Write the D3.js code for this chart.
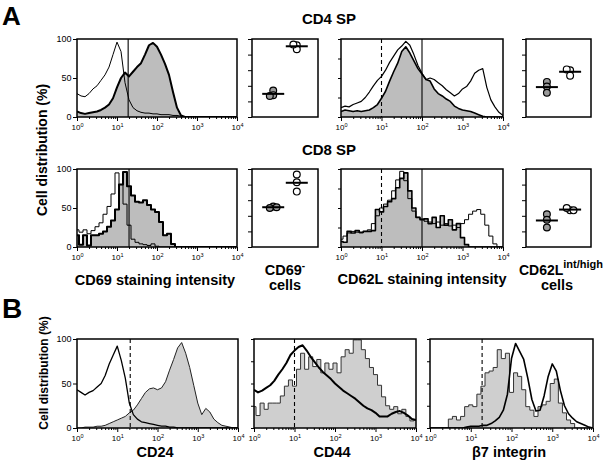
<!DOCTYPE html>
<html><head><meta charset="utf-8">
<script src="https://cdn.jsdelivr.net/npm/d3@7"></script>
<style>
body{margin:0;background:#fff;}
svg{display:block;}
</style></head><body>
<svg id="fig" width="608" height="463"></svg>
<script>
// ---------- DATA ----------
// histogram channels: log10 of staining intensity (bin centres)
const channelExp = [0.0,0.1,0.2,0.3,0.4,0.5,0.6,0.7,0.8,0.9,1.0,1.1,1.2,1.3,1.4,1.5,1.6,1.7,1.8,1.9,2.0,2.1,2.2,2.3,2.4,2.5,2.6,2.7,2.8,2.9,3.0,3.1,3.2,3.3,3.4,3.5,3.6,3.7,3.8,3.9,4.0];
const decadeTicks = [1, 10, 100, 1000, 10000];
const percentTicks = [0, 50, 100];
const plainTicks = [0, 25, 50, 75, 100];
const scatterTicks = [0, 20, 40, 60, 80, 100];
const groups = ["gray", "white"];

// Panel A, CD4 SP, CD69
const cd4Cd69Open = [30,27,26,30,36,40,47,54,64,80, 96,84,44,22,12,8,6,5,5,4, 4,3,3,3,2,2,1,0,0,0, 0,0,0,0,0,0,0,0,0,0, 0];
const cd4Cd69Gray = [7,5,4,5,6,7,9,12,16,24, 38,50,57,52,58,64,69,80,92,95, 90,80,68,54,32,12,2,0,0,0, 0,0,0,0,0,0,0,0,0,0, 0];
// Panel A, CD4 SP, CD62L
const cd4Cd62lOpen = [12,14,13,16,18,20,25,32,40,47, 52,60,70,78,86,91,97,92,80,66, 56,48,50,48,44,40,35,31,27,30, 36,39,46,56,60,62,38,22,13,6, 2];
const cd4Cd62lGray = [7,9,8,7,8,7,8,9,12,16, 24,33,46,58,69,84,90,82,72,62, 55,48,46,36,30,27,23,20,14,11, 9,8,7,5,3,1,0,0,0,0, 0];
// Panel A, CD8 SP, CD69
const cd8Cd69Open = [22,19,22,17,21,26,31,42,52,68, 95,80,55,28,10,6,4,3,2,4, 1,0,0,0,0,0,0,0,0,0, 0,0,0,0,0,0,0,0,0,0, 0];
const cd8Cd69Gray = [15,3,15,2,15,15,17,20,26,34, 48,80,96,78,66,58,57,60,54,48, 45,32,15,17,4,0,0,0,0,0, 0,0,0,0,0,0,0,0,0,0, 0];
// Panel A, CD8 SP, CD62L
const cd8Cd62lOpen = [10,14,18,20,19,18,20,22,30,40, 50,55,60,72,86,97,85,62,46,38, 36,33,32,30,32,28,30,27,28,25, 30,35,42,46,48,42,28,14,4,0, 0];
const cd8Cd62lGray = [7,6,20,18,21,19,20,20,21,48, 45,52,58,62,76,88,95,72,50,38, 35,36,30,38,25,40,28,35,22,30, 12,3,0,0,0,0,0,0,0,0, 0];
// Panel B
const cd24Open = [43,40,37,40,42,46,50,59,72,82, 92,76,56,28,15,10,7,6,5,4, 3,2,2,1,1,0,0,0,0,0, 0,0,0,0,0,0,0,0,0,0, 0];
const cd24Gray = [0,0,1,1,1,2,2,3,5,7, 9,11,13,17,20,26,33,40,44,45, 43,45,52,65,77,90,96,84,68,48, 28,15,22,18,10,6,3,2,1,0, 0];
const cd44Open = [43,40,42,45,48,53,60,66,73,82, 87,91,93,87,80,74,68,63,59,55, 50,46,42,39,36,33,29,25,22,20, 17,13,13,13,16,18,19,17,14,10, 9];
const cd44Gray = [24,14,28,21,28,28,28,36,47,54, 47,66,84,66,80,69,77,62,73,66, 73,62,80,88,84,99,99,88,78,68, 60,48,35,25,21,24,16,21,13,8, 9];
const b7Open = [0,0,0,0,0,0,0,0,0,1, 2,2,2,3,3,5,8,12,20,38, 78,95,86,77,56,32,19,20,36,58, 72,64,42,25,16,11,7,5,3,1, 0];
const b7Gray = [0,0,0,0,0,10,13,9,13,24, 26,24,38,47,62,64,68,88,78,84, 40,62,58,43,24,20,13,24,26,30, 50,55,28,17,9,5,0,0,0,0, 0];

// gates (staining intensity)
const gateCd4Cd69 = [19];
const gateCd8Cd69 = [20];
const gatesCd62l = [10, 100];
const gateCd24 = [21];
const gateCd44 = [10];
const gateB7 = [19];

// scatter values (% of cells), per group
const cd4Cd69Neg = {gray: [34, 28, 27], white: [92, 87, 93]};
const cd8Cd69Neg = {gray: [52, 50, 51], white: [93, 83, 71]};
const cd4Cd62lHigh = {gray: [45, 39, 31], white: [60, 61, 53]};
const cd8Cd62lHigh = {gray: [42, 35, 25], white: [47, 50, 47]};

// ---------- DRAWING ----------
const FONT = '"Liberation Sans", Arial, Helvetica, sans-serif';
const svg = d3.select("#fig").attr("font-family", FONT);
let clipN = 0;

function minorTicksFor() {
  const out = [];
  decadeTicks.slice(0, -1).forEach(d => { for (let k = 2; k <= 9; k++) out.push(d * k); });
  return out;
}

function histPanel(p) {
  const x = d3.scaleLog().domain([1, 1e4]).range([p.x0, p.x1]);
  const y = d3.scaleLinear().domain([0, 100]).range([p.y1, p.y0]);
  const g = svg.append("g");
  const id = "clip" + (clipN++);
  g.append("clipPath").attr("id", id).append("rect")
    .attr("x", p.x0).attr("y", p.y0 - 1).attr("width", p.x1 - p.x0).attr("height", p.y1 - p.y0 + 1);
  const pts = s => channelExp.map((e, i) => ({v: Math.pow(10, e), c: s[i]}));
  const plot = g.append("g").attr("clip-path", `url(#${id})`);
  const area = d3.area().x(d => x(d.v)).y0(y(0)).y1(d => y(d.c)).curve(p.grayCurve);
  const lineG = d3.line().x(d => x(d.v)).y(d => y(d.c)).curve(p.grayCurve);
  const lineO = d3.line().x(d => x(d.v)).y(d => y(d.c)).curve(p.openCurve);
  plot.append("path").datum(pts(p.gray)).attr("d", area).attr("fill", p.fill);
  plot.append("path").datum(pts(p.gray)).attr("d", lineG).attr("fill", "none")
    .attr("stroke", p.grayStroke).attr("stroke-width", p.grayW).attr("stroke-linejoin", "round");
  plot.append("path").datum(pts(p.open)).attr("d", lineO).attr("fill", "none")
    .attr("stroke", "#000").attr("stroke-width", p.openW).attr("stroke-linejoin", "round");
  p.gates.forEach(v => {
    g.append("line").attr("x1", x(v)).attr("x2", x(v)).attr("y1", p.y0).attr("y2", p.y1)
      .attr("stroke", "#000").attr("stroke-width", 1.1)
      .attr("stroke-dasharray", p.dashed(v) ? "4,3" : null);
  });
  g.append("rect").attr("x", p.x0).attr("y", p.y0).attr("width", p.x1 - p.x0).attr("height", p.y1 - p.y0)
    .attr("fill", "none").attr("stroke", "#000").attr("stroke-width", 1.5);
  // x axis
  const ax = g.append("g").attr("transform", `translate(0,${p.y1})`)
    .call(d3.axisBottom(x).tickValues(decadeTicks).tickSize(4).tickPadding(3).tickFormat(() => "10"));
  ax.select(".domain").remove();
  ax.selectAll(".tick line").attr("stroke-width", 1);
  ax.selectAll(".tick text").attr("font-size", 8).attr("font-family", FONT)
    .append("tspan").attr("dy", "-0.5em").attr("font-size", 5.5)
    .text(d => Math.round(Math.log10(d)));
  const axm = g.append("g").attr("transform", `translate(0,${p.y1})`)
    .call(d3.axisBottom(x).tickValues(minorTicksFor()).tickSize(2).tickFormat(""));
  axm.select(".domain").remove();
  // y axis
  const ay = g.append("g").attr("transform", `translate(${p.x0},0)`)
    .call(d3.axisLeft(y).tickValues(p.yLabels ? percentTicks : plainTicks)
      .tickSize(p.yLabels ? 4 : 3).tickPadding(1.5).tickFormat(p.yLabels ? d3.format("d") : ""));
  ay.select(".domain").remove();
  ay.selectAll(".tick text").attr("font-size", 9).attr("font-family", FONT);
}

function scatterPanel(p) {
  const y = d3.scaleLinear().domain([0, 100]).range([p.y1, p.y0]);
  const x = d3.scalePoint().domain(groups).range([p.x0, p.x1]).padding(0.9);
  const g = svg.append("g");
  g.append("rect").attr("x", p.x0).attr("y", p.y0).attr("width", p.x1 - p.x0).attr("height", p.y1 - p.y0)
    .attr("fill", "none").attr("stroke", "#000").attr("stroke-width", 1.5);
  const ay = g.append("g").attr("transform", `translate(${p.x0},0)`)
    .call(d3.axisLeft(y).tickValues(scatterTicks).tickSize(4).tickFormat(""));
  ay.select(".domain").remove();
  const r = 3.4;
  groups.forEach(gr => {
    const vals = p.data[gr];
    const placed = [];
    vals.forEach(v => {
      const cy = y(v);
      const offs = [0, -r, r, -2 * r, 2 * r];
      let cx = x(gr);
      for (const o of offs) {
        const tx = x(gr) + o;
        if (placed.every(q => Math.hypot(q[0] - tx, q[1] - cy) >= r * 0.95)) { cx = tx; break; }
      }
      placed.push([cx, cy]);
    });
    placed.forEach(([cx, cy]) => {
      g.append("circle").attr("cx", cx).attr("cy", cy).attr("r", r)
        .attr("fill", gr === "gray" ? "#9a9a9a" : "#fff").attr("stroke", "#000").attr("stroke-width", 1.2);
    });
    const m = d3.mean(vals);
    g.append("line").attr("x1", x(gr) - 11).attr("x2", x(gr) + 11).attr("y1", y(m)).attr("y2", y(m))
      .attr("stroke", "#000").attr("stroke-width", 2);
  });
}

const A1 = {x0: 77, x1: 237};
const A2 = {x0: 252, x1: 318};
const A3 = {x0: 341, x1: 503};
const A4 = {x0: 526, x1: 591};
const R1 = {y0: 39, y1: 117};
const R2 = {y0: 169, y1: 247};
const RB = {y0: 339, y1: 428};
const step = d3.curveStep;
const lin = d3.curveLinear;

histPanel({...A1, ...R1, open: cd4Cd69Open, gray: cd4Cd69Gray, gates: gateCd4Cd69, dashed: () => false,
  fill: "#bdbdbd", grayStroke: "#000", grayW: 2, openW: 1, yLabels: true, grayCurve: lin, openCurve: lin});
scatterPanel({...A2, ...R1, data: cd4Cd69Neg});
histPanel({...A3, ...R1, open: cd4Cd62lOpen, gray: cd4Cd62lGray, gates: gatesCd62l, dashed: v => v < 50,
  fill: "#bdbdbd", grayStroke: "#000", grayW: 1.6, openW: 1.2, yLabels: false, grayCurve: lin, openCurve: lin});
scatterPanel({...A4, ...R1, data: cd4Cd62lHigh});

histPanel({...A1, ...R2, open: cd8Cd69Open, gray: cd8Cd69Gray, gates: gateCd8Cd69, dashed: () => false,
  fill: "#bdbdbd", grayStroke: "#000", grayW: 2, openW: 1, yLabels: true, grayCurve: step, openCurve: step});
scatterPanel({...A2, ...R2, data: cd8Cd69Neg});
histPanel({...A3, ...R2, open: cd8Cd62lOpen, gray: cd8Cd62lGray, gates: gatesCd62l, dashed: v => v < 50,
  fill: "#bdbdbd", grayStroke: "#000", grayW: 1.6, openW: 1, yLabels: false, grayCurve: step, openCurve: step});
scatterPanel({...A4, ...R2, data: cd8Cd62lHigh});

histPanel({x0: 77, x1: 238, ...RB, open: cd24Open, gray: cd24Gray, gates: gateCd24, dashed: () => true,
  fill: "#cfcfcf", grayStroke: "#222", grayW: 1, openW: 1.3, yLabels: true, grayCurve: lin, openCurve: lin});
histPanel({x0: 254, x1: 416, ...RB, open: cd44Open, gray: cd44Gray, gates: gateCd44, dashed: () => true,
  fill: "#cfcfcf", grayStroke: "#333", grayW: 1, openW: 2, yLabels: false, grayCurve: step, openCurve: lin});
histPanel({x0: 430, x1: 593, ...RB, open: b7Open, gray: b7Gray, gates: gateB7, dashed: () => true,
  fill: "#cfcfcf", grayStroke: "#333", grayW: 1, openW: 1.6, yLabels: false, grayCurve: step, openCurve: lin});

// ---------- TEXT ----------
function txt(x, y, s, size, anchor = "middle") {
  return svg.append("text").attr("x", x).attr("y", y).attr("font-size", size)
    .attr("font-weight", "bold").attr("text-anchor", anchor).attr("fill", "#000").text(s);
}
txt(2, 25, "A", 26, "start");
txt(2, 318, "B", 28, "start");
txt(329, 24, "CD4 SP", 15);
txt(329, 155, "CD8 SP", 15);
svg.append("text").attr("transform", "translate(47,150) rotate(-90)").attr("text-anchor", "middle")
  .attr("font-size", 14).attr("font-weight", "bold").text("Cell distribution (%)");
svg.append("text").attr("transform", "translate(48,373) rotate(-90)").attr("text-anchor", "middle")
  .attr("font-size", 12).attr("font-weight", "bold").text("Cell distribution (%)");
txt(155, 285, "CD69 staining intensity", 14.5);
txt(422, 284, "CD62L staining intensity", 14.5);
const t1 = txt(285, 275, "CD69", 14.5);
t1.append("tspan").attr("dy", -6).attr("font-size", 10).text("-");
txt(285, 290, "cells", 14.5);
const t2 = txt(561, 275, "CD62L", 14);
t2.append("tspan").attr("dy", -7).attr("font-size", 11).text("int/high");
txt(557, 290, "cells", 14.5);
txt(155, 457, "CD24", 14.5);
txt(332, 457, "CD44", 14.5);
txt(509, 457, "β7 integrin", 14.5);
</script>
</body></html>
